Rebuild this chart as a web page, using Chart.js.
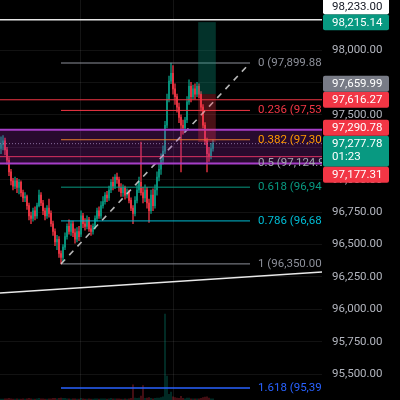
<!DOCTYPE html>
<html>
<head>
<meta charset="utf-8">
<script src="https://cdn.jsdelivr.net/npm/chart.js@4.4.1/dist/chart.umd.min.js"></script>
<style>
  html, body { margin: 0; padding: 0; background: #000; }
  #wrap { width: 400px; height: 400px; position: relative; }
</style>
</head>
<body>
<div id="wrap"><canvas id="c"></canvas></div>
<script>
// ---- candles (BTC/USDT, intraday) ----
const opens = [97240,97270,97300,97230,97150,97060,96990,96950,96990,96940,
  96980,96900,96860,96870,96800,96720,96700,96760,96720,96800,
  96880,96820,96760,96720,96780,96740,96660,96600,96520,96540,
  96430,96400,96480,96560,96640,96600,96660,96590,96540,96600,
  96580,96720,96660,96640,96690,96620,96600,96640,96700,96760,
  96720,96800,96830,96880,96860,96920,96980,96950,97020,97000,
  96940,96900,96940,96880,96900,96840,96780,96740,96840,96920,
  96980,96900,96860,96920,96820,96760,96880,96800,96920,97020,
  97080,97150,97220,97420,97620,97760,97820,97700,97640,97560,
  97480,97420,97400,97460,97600,97720,97640,97700,97660,97720,
  97660,97560,97420,97300,97200,97180,97240];
const highs = [97330,97340,97320,97250,97170,97080,97010,97020,97010,97000,
  96990,96920,96900,96880,96820,96750,96780,96790,96820,96920,
  96900,96840,96780,96800,96850,96760,96680,96620,96570,96560,
  96450,96500,96590,96660,96690,96680,96680,96620,96630,96640,
  96760,96740,96700,96720,96710,96650,96660,96720,96780,96790,
  96830,96870,96900,96910,96950,97000,97020,97040,97050,97020,
  96970,96960,96950,96930,96920,96860,96800,96870,96960,97020,
  97290,96940,96960,96940,96850,96920,96930,96960,97060,97120,
  97200,97260,97450,97660,97800,97899.88,97880,97740,97660,97590,
  97500,97460,97480,97640,97770,97750,97730,97740,97750,97740,
  97680,97580,97440,97320,97250,97280,97310];
const lows = [97200,97230,97190,97120,97030,96960,96920,96930,96900,96890,
  96870,96830,96830,96770,96690,96660,96680,96690,96700,96790,
  96800,96730,96690,96700,96710,96640,96570,96490,96460,96400,
  96350,96370,96460,96540,96580,96570,96560,96510,96520,96530,
  96560,96630,96610,96620,96600,96570,96580,96620,96680,96700,
  96700,96780,96810,96830,96840,96900,96920,96930,96970,96910,
  96870,96870,96850,96860,96820,96760,96660,96720,96820,96900,
  96880,96820,96830,96780,96670,96740,96760,96780,96880,96990,
  97040,97120,97200,97400,97600,97740,97660,97580,97520,97440,
  97060,97350,97370,97440,97580,97600,97620,97620,97640,97630,
  97530,97400,97270,97060,97140,97160,97220];
const closes = [97270,97300,97230,97150,97060,96990,96950,96990,96940,96980,
  96900,96860,96870,96800,96720,96700,96760,96720,96800,96880,
  96820,96760,96720,96780,96740,96660,96600,96520,96540,96430,
  96400,96480,96560,96640,96600,96660,96590,96540,96600,96560,
  96720,96660,96640,96690,96620,96600,96640,96700,96760,96720,
  96800,96830,96880,96860,96920,96980,96950,97020,97000,96940,
  96900,96940,96880,96900,96840,96780,96740,96840,96920,96980,
  96900,96860,96920,96820,96760,96880,96800,96920,97020,97080,
  97150,97220,97420,97620,97760,97820,97700,97640,97560,97480,
  97420,97400,97460,97600,97720,97640,97700,97660,97720,97660,
  97560,97420,97300,97200,97180,97240,97277.78];
const volumes = [2,2,3,3,4,3,2,2,3,2,
  2,3,2,3,4,3,2,2,3,4,
  3,3,2,2,3,3,4,4,3,4,
  5,4,4,3,3,2,3,3,2,2,
  4,3,2,2,3,2,2,3,3,2,
  3,3,3,2,3,4,3,3,3,3,
  2,2,3,2,3,4,38,5,4,5,
  10,36,4,5,6,4,3,4,5,5,
  6,8,215,60,14,20,8,6,5,4,
  9,4,3,5,5,3,3,3,3,3,
  4,6,7,8,5,3,3];

// ---- axes ----
const priceTicks = [95500, 95750, 96000, 96250, 96500, 96750, 97000, 97250, 97500, 97750, 98000];
const timeGrid = [39.5, 86];

// ---- drawings ----
const fibLevels = ['0', '0.236', '0.382', '0.5', '0.618', '0.786', '1', '1.618'];
const fibPrices = [97899.88, 97534.11, 97307.83, 97124.94, 96942.05, 96681.67, 96350.00, 95392.17];
const fibFrom = 30, fibTo = 124.5;
const trendX = [-0.5, 160.5];
const trendY = [96125, 96287];
const levelPrices = [98233.00, 97616.27, 97177.31];
const zoneLow = 97125, zoneHigh = 97385;
const posFrom = 98.6, posTo = 107.4;
const posEntry = 97659.99, posTarget = 98215.14, posStop = 97290.78;
const lastPrice = 97277.78;
const countdown = '01:23';
const tagPrices = [98233.00, 98215.14, 97659.99, 97616.27, 97290.78, 97277.78, 97177.31];

const UP = '#089981', DOWN = '#f23645';
const UP_C = 'rgba(8,153,129,0.85)', DOWN_C = 'rgba(242,54,69,0.85)';
const FONT = 'Roboto';
const fibColors = ['#8d909a', '#f23645', '#ff9800', '#a3a6b0', '#089981', '#00bcd4', '#8d909a', '#2962ff'];
const levelColors = ['#e6e6e6', '#f23645', '#f23645'];
const tagStyle = {
  98233.00: { bg: '#ffffff', fg: '#131722', fixed: false },
  98215.14: { bg: UP, fg: '#ffffff', fixed: true },
  97659.99: { bg: '#787b86', fg: '#ffffff', fixed: false },
  97616.27: { bg: DOWN, fg: '#ffffff', fixed: true },
  97290.78: { bg: DOWN, fg: '#ffffff', fixed: false },
  97277.78: { bg: UP, fg: '#ffffff', fixed: true, sub: countdown },
  97177.31: { bg: DOWN, fg: '#ffffff', fixed: false }
};

const fmt = v => v.toLocaleString('en-US', { minimumFractionDigits: 2, maximumFractionDigits: 2 });
const idx = opens.map((_, i) => i);
const candleColor = idx.map(i => closes[i] >= opens[i] ? UP_C : DOWN_C);
const X0 = -0.5, X1 = 160.5;

function seg(x0, y0, x1, y1) { return [{ x: x0, y: y0 }, { x: x1, y: y1 }]; }
function noPad(s) { s.paddingTop = 0; s.paddingBottom = 0; s.paddingLeft = 0; s.paddingRight = 0; }

const datasets = [];
// volume
datasets.push({
  type: 'bar', yAxisID: 'y2', order: 20, grouped: false, barThickness: 1.2,
  data: idx.map(i => ({ x: i, y: volumes[i] })),
  backgroundColor: idx.map(i => closes[i] >= opens[i] ? 'rgba(8,153,129,0.3)' : 'rgba(242,54,69,0.3)')
});
// wicks and bodies
datasets.push({
  type: 'bar', order: 11, grouped: false, barThickness: 0.9,
  data: idx.map(i => ({ x: i, y: [lows[i], highs[i]] })),
  backgroundColor: candleColor
});
datasets.push({
  type: 'bar', order: 10, grouped: false, barThickness: 1.3,
  data: idx.map(i => ({ x: i, y: [opens[i], closes[i]] })),
  backgroundColor: candleColor
});
// horizontal price levels
levelPrices.forEach((p, k) => datasets.push({
  type: 'line', order: 6, data: seg(X0, p, X1, p),
  borderColor: levelColors[k], borderWidth: k === 0 ? 1.5 : 1, pointRadius: 0
}));
// last price line
datasets.push({
  type: 'line', order: 6, data: seg(X0, lastPrice, X1, lastPrice),
  borderColor: 'rgba(160,165,185,0.8)', borderWidth: 1, borderDash: [1, 2], pointRadius: 0
});
// fibonacci levels
fibPrices.forEach((p, k) => datasets.push({
  type: 'line', order: 5, data: seg(fibFrom, p, fibTo, p),
  borderColor: fibColors[k], borderWidth: k === 7 ? 1.5 : 1, pointRadius: 0
}));
// fib trend (dashed) and long trend line
datasets.push({
  type: 'line', order: 4, data: seg(fibFrom, fibPrices[6], fibTo, fibPrices[0]),
  borderColor: 'rgba(215,215,215,0.85)', borderWidth: 1.6, borderDash: [6, 6], pointRadius: 0
});
datasets.push({
  type: 'line', order: 4, data: seg(trendX[0], trendY[0], trendX[1], trendY[1]),
  borderColor: '#e8e8e8', borderWidth: 1.5, pointRadius: 0
});

const overlays = {
  id: 'overlays',
  afterDatasetsDraw(chart) {
    const { ctx, chartArea: a, scales: { x, y } } = chart;
    ctx.save();
    ctx.beginPath(); ctx.rect(a.left, a.top, a.right - a.left, a.bottom - a.top); ctx.clip();
    // purple zone
    const zt = y.getPixelForValue(zoneHigh), zb = y.getPixelForValue(zoneLow);
    ctx.fillStyle = 'rgba(156,39,176,0.26)';
    ctx.fillRect(a.left, zt, a.right - a.left, zb - zt);
    ctx.strokeStyle = '#a63ec8'; ctx.lineWidth = 2;
    ctx.beginPath();
    ctx.moveTo(a.left, zt); ctx.lineTo(a.right, zt);
    ctx.moveTo(a.left, zb); ctx.lineTo(a.right, zb);
    ctx.stroke();
    // long position tool
    const px0 = x.getPixelForValue(posFrom), px1 = x.getPixelForValue(posTo);
    const yT = y.getPixelForValue(posTarget), yE = y.getPixelForValue(posEntry), yS = y.getPixelForValue(posStop);
    ctx.fillStyle = 'rgba(8,153,129,0.33)';
    ctx.fillRect(px0, yT, px1 - px0, yE - yT);
    ctx.fillStyle = 'rgba(242,54,69,0.30)';
    ctx.fillRect(px0, yE, px1 - px0, yS - yE);
    // fib labels
    ctx.font = '11.5px ' + FONT;
    ctx.textBaseline = 'middle'; ctx.textAlign = 'left';
    const lx = x.getPixelForValue(fibTo) + 8;
    fibPrices.forEach((p, k) => {
      ctx.fillStyle = fibColors[k];
      ctx.fillText(fibLevels[k] + ' (' + fmt(p) + ')', lx, y.getPixelForValue(p));
    });
    ctx.restore();
  },
  afterDraw(chart) {
    const { ctx, chartArea: a, scales: { y } } = chart;
    const H = 16, SUB = 15;
    const boxes = tagPrices.map(p => {
      const st = tagStyle[p];
      const yc = y.getPixelForValue(p);
      return { p, st, yc, top: yc - H / 2, bot: yc + H / 2 + (st.sub ? SUB : 0) };
    });
    const placed = boxes.filter(b => b.st.fixed);
    boxes.filter(b => !b.st.fixed).forEach(b => {
      for (let n = 0; n < 6; n++) {
        const hit = placed.find(o => b.top < o.bot && b.bot > o.top);
        if (!hit) break;
        const h = b.bot - b.top;
        if (b.yc < hit.yc) { b.bot = hit.top; b.top = b.bot - h; }
        else { b.top = hit.bot; b.bot = b.top + h; }
      }
      placed.push(b);
    });
    ctx.save();
    ctx.font = '11.5px ' + FONT;
    ctx.textBaseline = 'middle'; ctx.textAlign = 'left';
    const tx = a.right + 1, tw = 66;
    placed.forEach(b => {
      ctx.fillStyle = b.st.bg;
      ctx.beginPath();
      ctx.roundRect(tx, b.top, tw, b.bot - b.top, 2);
      ctx.fill();
      ctx.fillStyle = b.st.fg;
      ctx.fillText(fmt(b.p), a.right + 10, b.top + H / 2 + 0.5);
      if (b.st.sub) ctx.fillText(b.st.sub, a.right + 10, b.top + H / 2 + 13.5);
    });
    ctx.restore();
  }
};

new Chart(document.getElementById('c'), {
  type: 'bar',
  data: { datasets },
  plugins: [overlays],
  options: {
    responsive: true, maintainAspectRatio: false, animation: false,
    layout: { padding: 0 },
    plugins: { legend: { display: false }, tooltip: { enabled: false } },
    scales: {
      x: {
        type: 'linear', min: X0, max: X1, offset: false,
        ticks: { display: false },
        border: { display: false },
        grid: { color: 'rgba(255,255,255,0.08)', drawTicks: false, offset: false },
        afterBuildTicks: s => { s.ticks = timeGrid.map(v => ({ value: v })); },
        afterFit: s => { s.height = 0; noPad(s); }
      },
      y: {
        position: 'right', min: 95300, max: 98386,
        border: { display: false },
        grid: { color: 'rgba(255,255,255,0.07)', drawTicks: false },
        ticks: { color: '#b2b5be', font: { family: FONT, size: 11.5 }, padding: 10, callback: v => fmt(v) },
        afterBuildTicks: s => { s.ticks = priceTicks.map(v => ({ value: v })); },
        afterFit: s => { s.width = 78; noPad(s); }
      },
      y2: { display: false, min: 0, max: 1000 }
    }
  }
});
</script>
</body>
</html>
